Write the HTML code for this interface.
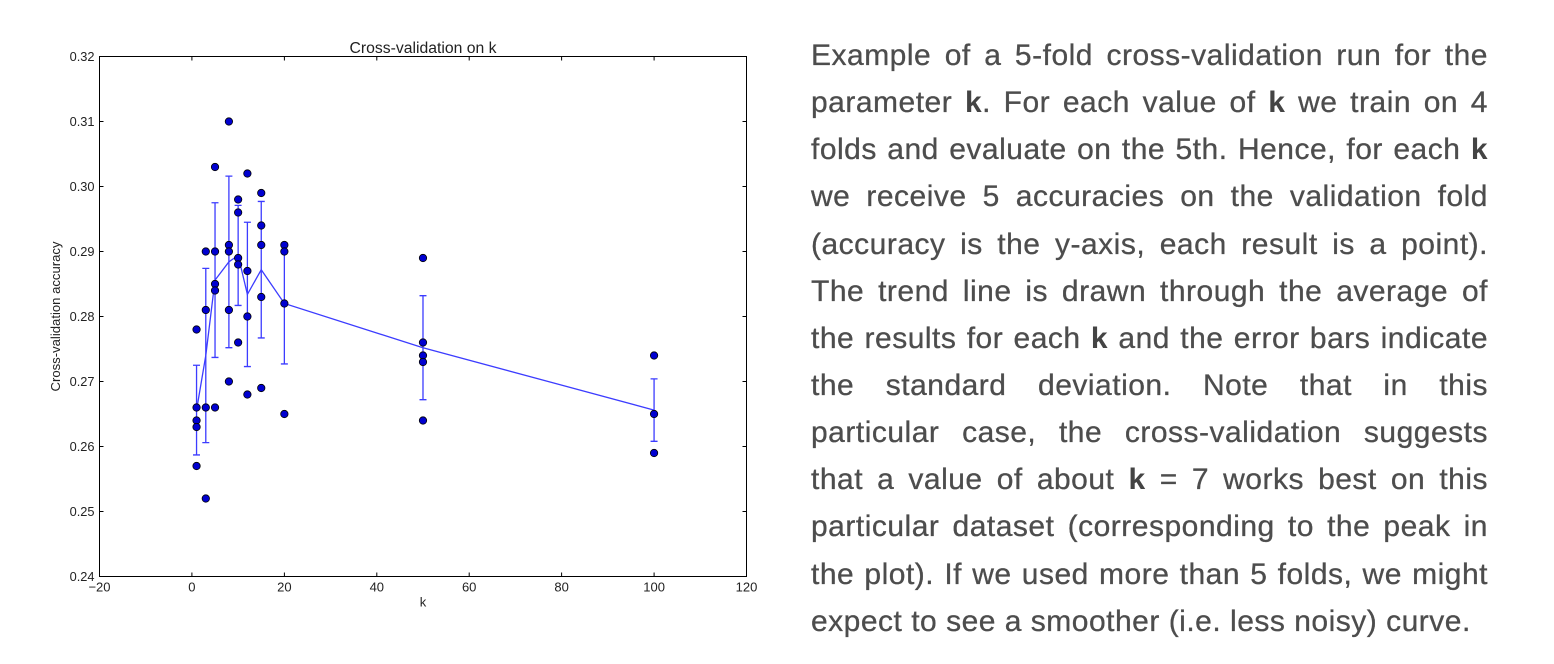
<!DOCTYPE html>
<html>
<head>
<meta charset="utf-8">
<style>
  html, body { margin: 0; padding: 0; background: #ffffff; }
  body { width: 1554px; height: 664px; position: relative; overflow: hidden; }
  #chart { position: absolute; left: 0; top: 0; }
  .txt {
    position: absolute;
    left: 811px;
    top: 32px;
    width: 677px;
    font-family: "Liberation Sans", Arial, sans-serif;
    font-size: 30px;
    line-height: 47.14px;
    color: #4d4d4d;
    letter-spacing: 0.5px;
    -webkit-text-stroke: 0.3px #4d4d4d;
  }
  .txt div { text-align: justify; text-align-last: justify; }
  .txt div.last { text-align: left; text-align-last: left; }
  .txt b { font-weight: bold; color: #444; -webkit-text-stroke: 0; }
</style>
</head>
<body>
<svg id="chart" width="780" height="664" viewBox="0 0 780 664" xmlns="http://www.w3.org/2000/svg" font-family="Liberation Sans, Arial, sans-serif">
  <!-- title -->
  <text x="423" y="53" font-size="15.5" text-anchor="middle" fill="#222" textLength="147" lengthAdjust="spacingAndGlyphs">Cross-validation on k</text>
  <!-- y label -->
  <text transform="translate(60,316.5) rotate(-90)" font-size="13" text-anchor="middle" fill="#222" textLength="150" lengthAdjust="spacingAndGlyphs">Cross-validation accuracy</text>
  <!-- x label -->
  <text x="423" y="606.5" font-size="13" text-anchor="middle" fill="#222">k</text>

  <!-- y tick labels -->
  <g font-size="12.8" text-anchor="end" fill="#222">
    <text x="94.5" y="61">0.32</text>
    <text x="94.5" y="126">0.31</text>
    <text x="94.5" y="191">0.30</text>
    <text x="94.5" y="256">0.29</text>
    <text x="94.5" y="321">0.28</text>
    <text x="94.5" y="386">0.27</text>
    <text x="94.5" y="451">0.26</text>
    <text x="94.5" y="516">0.25</text>
    <text x="94.5" y="581">0.24</text>
  </g>
  <!-- x tick labels -->
  <g font-size="13" text-anchor="middle" fill="#222">
    <text x="99.5" y="591.5">−20</text>
    <text x="191.9" y="591.5">0</text>
    <text x="284.4" y="591.5">20</text>
    <text x="376.8" y="591.5">40</text>
    <text x="469.2" y="591.5">60</text>
    <text x="561.6" y="591.5">80</text>
    <text x="654.1" y="591.5">100</text>
    <text x="746.5" y="591.5">120</text>
  </g>

  <!-- ticks (inward, all sides) -->
  <g stroke="#000" stroke-width="1">
    <path d="M99.5 121.5h4 M99.5 186.5h4 M99.5 251.5h4 M99.5 316.5h4 M99.5 381.5h4 M99.5 446.5h4 M99.5 511.5h4
             M746.5 121.5h-4 M746.5 186.5h-4 M746.5 251.5h-4 M746.5 316.5h-4 M746.5 381.5h-4 M746.5 446.5h-4 M746.5 511.5h-4"/>
    <path d="M191.9 576.5v-4 M284.4 576.5v-4 M376.8 576.5v-4 M469.2 576.5v-4 M561.6 576.5v-4 M654.1 576.5v-4
             M191.9 56.5v4 M284.4 56.5v4 M376.8 56.5v4 M469.2 56.5v4 M561.6 56.5v4 M654.1 56.5v4"/>
  </g>

  <!-- error bars -->
  <g stroke="#3c3cff" stroke-width="1.3" fill="none">
    <path d="M196.55 365.25V454.95 M193 365.25h7 M193 454.95h7"/>
    <path d="M205.79 268.4V442.6 M202.3 268.4h7 M202.3 442.6h7"/>
    <path d="M215.03 202.75V357.45 M211.5 202.75h7 M211.5 357.45h7"/>
    <path d="M228.9 176.1V347.7 M225.4 176.1h7 M225.4 347.7h7"/>
    <path d="M238.14 205.35V305.45 M234.6 205.35h7 M234.6 305.45h7"/>
    <path d="M247.39 222.25V366.55 M243.9 222.25h7 M243.9 366.55h7"/>
    <path d="M261.25 201.45V337.95 M257.75 201.45h7 M257.75 337.95h7"/>
    <path d="M284.36 243.05V363.95 M280.86 243.05h7 M280.86 363.95h7"/>
    <path d="M422.99 295.7V399.7 M419.5 295.7h7 M419.5 399.7h7"/>
    <path d="M654.07 378.9V441.3 M650.57 378.9h7 M650.57 441.3h7"/>
  </g>
  <!-- trend line -->
  <polyline fill="none" stroke="#3c3cff" stroke-width="1.3"
    points="196.55,410.1 205.79,355.5 215.03,280.1 228.9,261.9 238.14,255.4 247.39,294.4 261.25,269.7 284.36,303.5 422.99,347.7 654.07,410.1"/>

  <!-- data points -->
  <g fill="#0000d0" stroke="#000" stroke-width="0.8">
    <circle cx="196.55" cy="329.5" r="3.7"/>
    <circle cx="196.55" cy="407.5" r="3.7"/>
    <circle cx="196.55" cy="420.5" r="3.7"/>
    <circle cx="196.55" cy="427" r="3.7"/>
    <circle cx="196.55" cy="466" r="3.7"/>
    <circle cx="205.79" cy="251.5" r="3.7"/>
    <circle cx="205.79" cy="310" r="3.7"/>
    <circle cx="205.79" cy="407.5" r="3.7"/>
    <circle cx="205.79" cy="498.5" r="3.7"/>
    <circle cx="215.03" cy="167" r="3.7"/>
    <circle cx="215.03" cy="251.5" r="3.7"/>
    <circle cx="215.03" cy="284" r="3.7"/>
    <circle cx="215.03" cy="290.5" r="3.7"/>
    <circle cx="215.03" cy="407.5" r="3.7"/>
    <circle cx="228.9" cy="121.5" r="3.7"/>
    <circle cx="228.9" cy="245" r="3.7"/>
    <circle cx="228.9" cy="251.5" r="3.7"/>
    <circle cx="228.9" cy="310" r="3.7"/>
    <circle cx="228.9" cy="381.5" r="3.7"/>
    <circle cx="238.14" cy="199.5" r="3.7"/>
    <circle cx="238.14" cy="212.5" r="3.7"/>
    <circle cx="238.14" cy="258" r="3.7"/>
    <circle cx="238.14" cy="264.5" r="3.7"/>
    <circle cx="238.14" cy="342.5" r="3.7"/>
    <circle cx="247.39" cy="173.5" r="3.7"/>
    <circle cx="247.39" cy="271" r="3.7"/>
    <circle cx="247.39" cy="316.5" r="3.7"/>
    <circle cx="247.39" cy="394.5" r="3.7"/>
    <circle cx="261.25" cy="193" r="3.7"/>
    <circle cx="261.25" cy="225.5" r="3.7"/>
    <circle cx="261.25" cy="245" r="3.7"/>
    <circle cx="261.25" cy="297" r="3.7"/>
    <circle cx="261.25" cy="388" r="3.7"/>
    <circle cx="284.36" cy="245" r="3.7"/>
    <circle cx="284.36" cy="251.5" r="3.7"/>
    <circle cx="284.36" cy="303.5" r="3.7"/>
    <circle cx="284.36" cy="414" r="3.7"/>
    <circle cx="422.99" cy="258" r="3.7"/>
    <circle cx="422.99" cy="342.5" r="3.7"/>
    <circle cx="422.99" cy="355.5" r="3.7"/>
    <circle cx="422.99" cy="362" r="3.7"/>
    <circle cx="422.99" cy="420.5" r="3.7"/>
    <circle cx="654.07" cy="355.5" r="3.7"/>
    <circle cx="654.07" cy="414" r="3.7"/>
    <circle cx="654.07" cy="453" r="3.7"/>
  </g>

  <!-- frame -->
  <rect x="99.5" y="56.5" width="647" height="520" fill="none" stroke="#000" stroke-width="1"/>
</svg>

<div class="txt">
  <div>Example of a 5-fold cross-validation run for the</div>
  <div>parameter <b>k</b>. For each value of <b>k</b> we train on 4</div>
  <div>folds and evaluate on the 5th. Hence, for each <b>k</b></div>
  <div>we receive 5 accuracies on the validation fold</div>
  <div>(accuracy is the y-axis, each result is a point).</div>
  <div>The trend line is drawn through the average of</div>
  <div>the results for each <b>k</b> and the error bars indicate</div>
  <div>the standard deviation. Note that in this</div>
  <div>particular case, the cross-validation suggests</div>
  <div>that a value of about <b>k</b> = 7 works best on this</div>
  <div>particular dataset (corresponding to the peak in</div>
  <div>the plot). If we used more than 5 folds, we might</div>
  <div class="last">expect to see a smoother (i.e. less noisy) curve.</div>
</div>
</body>
</html>
